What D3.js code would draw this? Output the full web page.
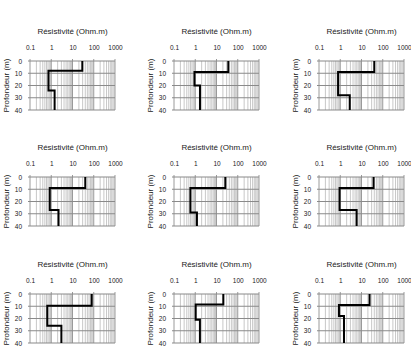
<!DOCTYPE html>
<html><head><meta charset="utf-8">
<script src="https://cdn.jsdelivr.net/npm/d3@7"></script>
<style>body{margin:0;background:#fff}svg{display:block}</style>
</head><body><svg id="c" width="411" height="355"></svg>
<script>
// Layer resistivities (Ohm.m), top to bottom, for the 9 soundings
const layer1 = [29, 36, 40, 40, 26, 37, 80, 21, 24];
const layer2 = [0.74, 0.92, 0.79, 0.85, 0.59, 0.93, 0.65, 1.05, 0.87];
const layer3 = [1.44, 1.67, 2.8, 2.2, 1.2, 5.9, 3.0, 1.66, 1.5];
// Interface depths (m)
const depth1 = [8, 9, 9, 9, 9, 9, 9.5, 8.5, 9];
const depth2 = [24, 20, 28, 27, 29, 27, 26, 21, 18];
const maxDepth = 40;
const xTickLabels = ["0.1", "1", "10", "100", "1000"];
const yTickLabels = [0, 10, 20, 30, 40];
const xTitle = "Résistivité (Ohm.m)";
const yTitle = "Profondeur (m)";

const svg = d3.select("#c");
const colLeft = [30, 174, 319];
const rowTop = [61, 177, 294];
const W = 85, H = 49;
const font = "Liberation Sans, Arial, sans-serif";

for (let i = 0; i < 9; i++) {
  const r = Math.floor(i / 3), c = i % 3;
  const g = svg.append("g").attr("transform", `translate(${colLeft[c]},${rowTop[r]})`);
  const x = d3.scaleLog().domain([0.1, 1000]).range([0, W]);
  const y = d3.scaleLinear().domain([0, maxDepth]).range([0, H]);

  // minor vertical grid
  const minor = [];
  for (let e = -1; e < 3; e++) for (let m = 2; m <= 9; m++) minor.push(m * Math.pow(10, e));
  g.selectAll(".mn").data(minor).join("line")
    .attr("x1", d => x(d)).attr("x2", d => x(d)).attr("y1", 0).attr("y2", H)
    .attr("stroke", "#c8c8c8").attr("stroke-width", 1);
  const major = [0.1, 1, 10, 100, 1000];
  g.selectAll(".mj").data(major).join("line")
    .attr("x1", d => x(d)).attr("x2", d => x(d)).attr("y1", -2).attr("y2", H)
    .attr("stroke", "#9a9a9a").attr("stroke-width", 1);
  // horizontal grid
  g.selectAll(".hg").data(yTickLabels).join("line")
    .attr("x1", -2).attr("x2", W).attr("y1", d => y(d)).attr("y2", d => y(d))
    .attr("stroke", "#8a8a8a").attr("stroke-width", 1.2);

  // top axis labels
  const xAxis = d3.axisTop(x).tickValues(major).tickFormat((d, k) => xTickLabels[k]).tickSize(0).tickPadding(11);
  const ax = g.append("g").call(xAxis);
  ax.select(".domain").remove();
  ax.selectAll("text").attr("font-size", 6.5).attr("font-family", font).attr("fill", "#222");

  const yAxis = d3.axisLeft(y).tickValues(yTickLabels).tickSize(0).tickPadding(8);
  const ay = g.append("g").call(yAxis);
  ay.select(".domain").remove();
  ay.selectAll("text").attr("font-size", 6.5).attr("font-family", font).attr("fill", "#222");

  // titles
  g.append("text").attr("x", W / 2).attr("y", -27).attr("text-anchor", "middle")
    .attr("font-size", 8).attr("font-family", font).attr("fill", "#222").text(xTitle);
  g.append("text").attr("transform", `translate(-21,${H / 2}) rotate(-90)`).attr("text-anchor", "middle")
    .attr("font-size", 8).attr("font-family", font).attr("fill", "#222").text(yTitle);

  // step profile
  const pts = [
    [layer1[i], 0], [layer1[i], depth1[i]],
    [layer2[i], depth1[i]], [layer2[i], depth2[i]],
    [layer3[i], depth2[i]], [layer3[i], maxDepth]
  ];
  g.append("path").attr("d", d3.line().x(d => x(d[0])).y(d => y(d[1]))(pts))
    .attr("fill", "none").attr("stroke", "#000").attr("stroke-width", 2);
}
</script></body></html>
